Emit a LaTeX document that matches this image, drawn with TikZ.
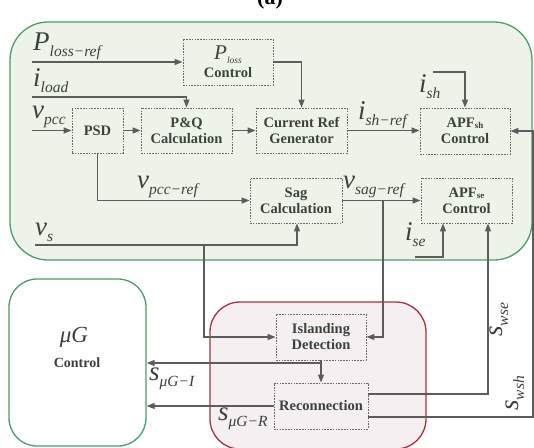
\documentclass[tikz,border=0pt]{standalone}
\usepackage{fontspec}
\setmainfont{Liberation Serif}
\usetikzlibrary{arrows.meta}
\definecolor{gfill}{RGB}{237,243,232}
\definecolor{gline}{RGB}{72,158,108}
\definecolor{rfill}{RGB}{246,239,241}
\definecolor{rline}{RGB}{166,50,66}
\definecolor{wire}{RGB}{92,92,92}
\definecolor{txt}{RGB}{58,66,58}
\definecolor{dashc}{RGB}{105,105,105}
\newcommand\lbl[2]{{\fontsize{27}{27}\selectfont\itshape #1}\raisebox{-6pt}{\fontsize{15.5}{15.5}\selectfont\itshape #2}}
\tikzset{
  blk/.style={draw=dashc, dash pattern=on 1.6pt off 1.2pt, line width=0.9pt, fill=gfill,
    inner sep=0pt, align=center, text=txt, font=\fontsize{14.5}{16}\selectfont\bfseries},
  rblk/.style={blk, fill=rfill},
  wire/.style={draw=wire, line width=1.4pt},
  arr/.style={wire, -{Triangle[length=8pt,width=6pt]}},
  lab/.style={anchor=base west, inner sep=0pt, text=txt},
}
\begin{document}
\begin{tikzpicture}[x=1pt,y=-1pt]
\useasboundingbox (0,0) rectangle (534,447);
% caption fragment (cut by the top edge)
\node[anchor=base, inner sep=0pt, text=black, font=\fontsize{22}{22}\selectfont\bfseries] (cap) at (270,5) {(a)};
% containers
\draw[gline, fill=gfill, line width=1.3pt, rounded corners=38pt] (10,22) rectangle (532,260);
\node[draw=gline, fill=white, line width=1.3pt, rounded corners=28pt, minimum width=137pt, minimum height=167pt] (ug) at (77.5,362.5) {};
\draw[rline, fill=rfill, line width=1.3pt, rounded corners=30pt] (210,302) rectangle (426,449);
\node[inner sep=0pt, text=txt, font=\fontsize{23}{23}\selectfont\itshape] (ugt) at (74,337) {μG};
\node[inner sep=0pt, text=txt, font=\fontsize{14}{14}\selectfont\bfseries] (ugc) at (77,363) {Control};
% blocks
\node[blk, minimum width=90pt, minimum height=46pt, font=\fontsize{14.5}{18}\selectfont\bfseries] (ploss) at (228,62)
  {{\fontsize{21}{21}\selectfont\mdseries\itshape P}\raisebox{-4pt}{\fontsize{9.5}{9.5}\selectfont\mdseries\itshape loss}\\Control};
\node[blk, minimum width=51pt, minimum height=45pt] (psd) at (97.5,130.5) {PSD};
\node[blk, minimum width=91pt, minimum height=45pt] (pq) at (186.5,130.5) {P\&Q\\Calculation};
\node[blk, minimum width=91pt, minimum height=45pt] (crg) at (301.5,130.5) {Current Ref\\Generator};
\node[blk, minimum width=90pt, minimum height=46pt] (apfsh) at (465,131) {APF\raisebox{-1pt}{\fontsize{9}{9}\selectfont sh}\\Control};
\node[blk, minimum width=92pt, minimum height=45pt] (sag) at (296,200.5) {Sag\\Calculation};
\node[blk, minimum width=91pt, minimum height=45pt] (apfse) at (466.5,200.5) {APF\raisebox{-1pt}{\fontsize{9}{9}\selectfont se}\\Control};
\node[rblk, minimum width=90pt, minimum height=46pt] (isl) at (321,337) {Islanding\\Detection};
\node[rblk, minimum width=94pt, minimum height=46pt] (rec) at (321,406) {Reconnection};
% free ends
\coordinate (pin) at (32,62);
\coordinate (iin) at (32,97);
\coordinate (vin) at (32,130.5);
\coordinate (ishin) at (433,72);
\coordinate (vsin) at (35,245);
\coordinate (isein) at (415,257);
\coordinate (jvs) at (204,245);
\coordinate (jsag) at (383,200.5);
\coordinate (jisl) at (321,363);
\coordinate (rgt) at (533,417);
% connectors
\draw[arr] (pin) -- (ploss.west);
\draw[arr] (iin) -| (pq.north);
\draw[arr] (vin) -- (psd.west);
\draw[arr] (psd.east) -- (pq.west);
\draw[arr] (pq.east) -- (crg.west);
\draw[arr] (ploss.east) -| (crg.north);
\draw[arr] (crg.east) -- (crg.east -| apfsh.west);
\draw[arr] (ishin) -| (apfsh.north);
\draw[arr] (psd.south) |- (sag.west);
\draw[arr] (vsin) -| ([xshift=1pt]sag.south);
\draw[arr] (jvs) |- (isl.west);
\draw[arr] (sag.east) -- (apfse.west);
\draw[arr] (jsag) |- (isl.east);
\draw[arr] (isein) -| ([xshift=-23.5pt]apfse.south);
\draw[arr] ([yshift=12pt]rec.east) -| ([xshift=21.5pt]apfse.south);
\draw[arr] ([yshift=-11pt]rec.east) -- (rgt) |- (apfsh.east);
\draw[arr] (isl.south) -- (rec.north);
\draw[arr] (jisl) -- (jisl -| ug.east);
\draw[arr] (rec.west) -- (rec.west -| ug.east);
% labels
\node[lab] (lp) at (33,50) {\lbl{P}{loss−ref}};
\node[lab] (li) at (33,86) {\lbl{i}{load}};
\node[lab] (lv) at (32,118) {\lbl{v}{pcc}};
\node[lab] (lish) at (419,92) {\lbl{i}{sh}};
\node[lab] (lishr) at (358,119) {\lbl{i}{sh−ref}};
\node[lab] (lvpr) at (137,188) {\lbl{v}{pcc−ref}};
\node[lab] (lvsr) at (343,188) {\lbl{v}{sag−ref}};
\node[lab] (lvs) at (35,235) {\lbl{v}{s}};
\node[lab] (lise) at (405,240) {\lbl{i}{se}};
\node[lab] (lsi) at (149,380) {\lbl{s}{μG−I}};
\node[lab] (lsr) at (218,420) {\lbl{s}{μG−R}};
\node[lab, rotate=90] (lswse) at (502,337) {\lbl{s}{wse}};
\node[lab, rotate=90] (lswsh) at (518,411) {\lbl{s}{wsh}};
\end{tikzpicture}
\end{document}
